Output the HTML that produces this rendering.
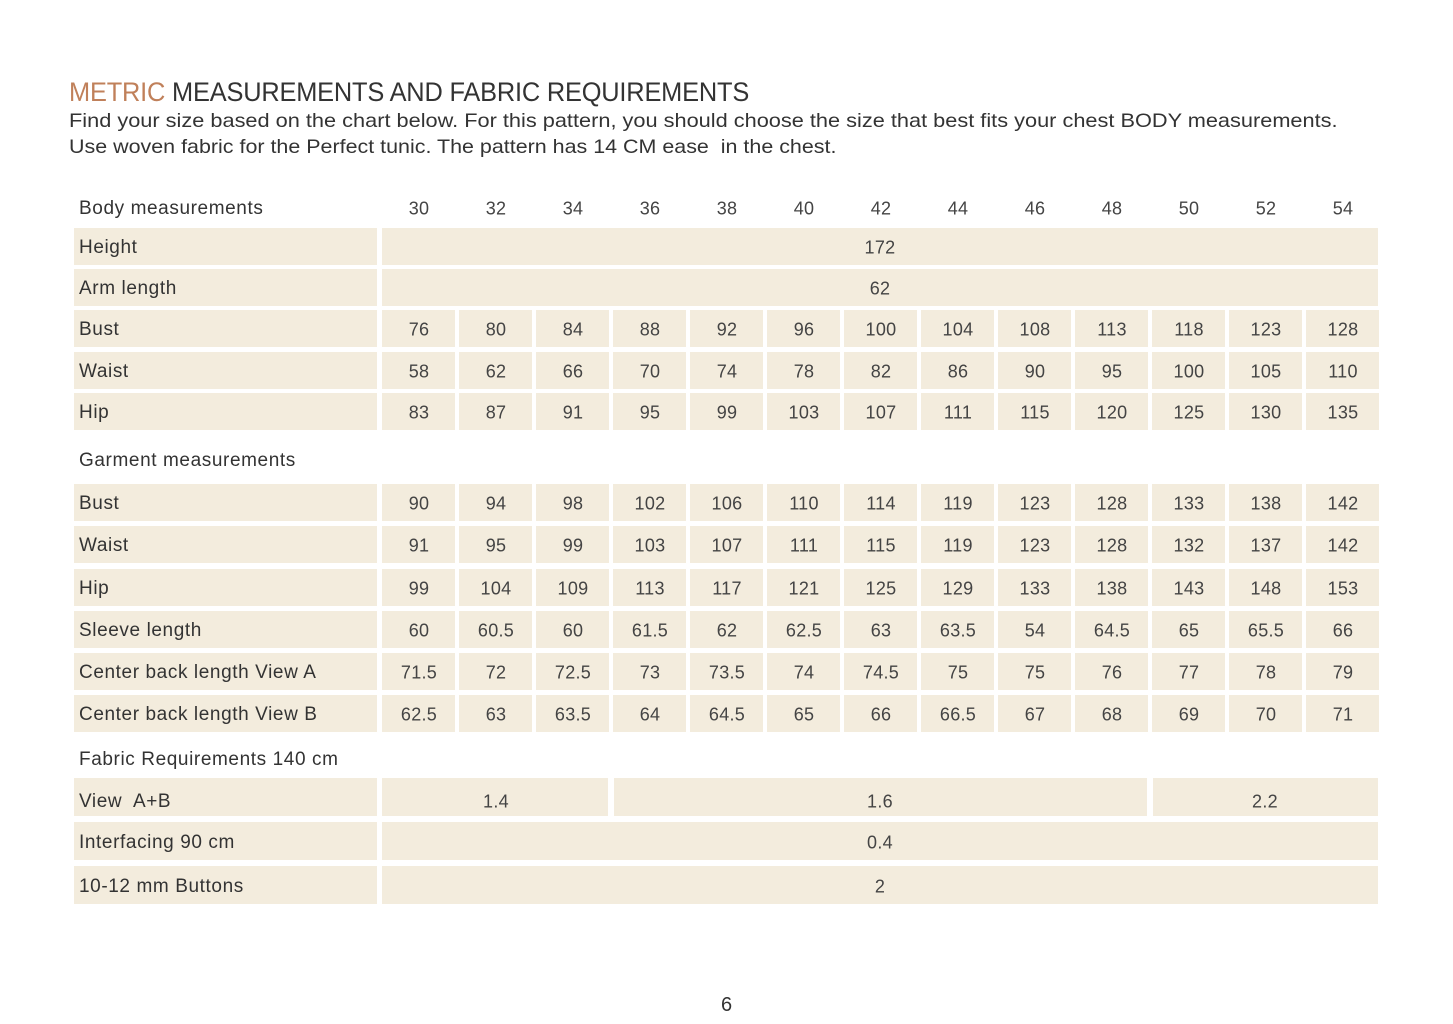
<!DOCTYPE html><html><head><meta charset="utf-8"><style>
body{margin:0;width:1453px;height:1024px;background:#fff;position:relative;font-family:"Liberation Sans",sans-serif;color:#333;overflow:hidden}
.t{position:absolute;white-space:nowrap}
.c{position:absolute;background:#f3ecdd;height:37px}
.v{position:absolute;font-size:18px;color:#444;transform:translate(-50%,-50%);white-space:nowrap;letter-spacing:0.3px}
.l{position:absolute;font-size:19px;letter-spacing:0.6px;color:#333;transform:translateY(-50%);left:79px;white-space:nowrap}
</style></head><body>
<div class="t" style="left:69px;top:77px;font-size:27px;letter-spacing:-0.2px;transform:scaleX(0.94);transform-origin:left"><span style="color:#c0805a">METRIC</span> MEASUREMENTS AND FABRIC REQUIREMENTS</div>
<div class="t" style="left:69px;top:110px;font-size:19.5px;transform:scaleX(1.115);transform-origin:left">Find your size based on the chart below. For this pattern, you should choose the size that best fits your chest BODY measurements.</div>
<div class="t" style="left:69px;top:136px;font-size:19.5px;transform:scaleX(1.1);transform-origin:left">Use woven fabric for the Perfect tunic. The pattern has 14 CM ease&nbsp; in the chest.</div>
<div class="t" style="left:721px;top:994px;font-size:20px">6</div>
<div id="g"></div>
<script>
var g=document.getElementById('g'),h='';
function cx(i){return 419+77*i}
function cell(x1,x2,y,hh){h+='<div class="c" style="left:'+x1+'px;width:'+(x2-x1)+'px;top:'+(y-hh/2)+'px;height:'+hh+'px"></div>'}
function txt(x,y,s){h+='<div class="v" style="left:'+x+'px;top:'+(y+2)+'px">'+s+'</div>'}
function lab(y,s){h+='<div class="l" style="top:'+(y+2)+'px">'+s+'</div>'}
var sizes=[30,32,34,36,38,40,42,44,46,48,50,52,54];
lab(207,'Body measurements');sizes.forEach(function(s,i){txt(cx(i),207,s)});
function row(y,name,vals,hh){hh=hh||37;cell(74,377,y,hh);lab(y,name);vals.forEach(function(v,i){cell(cx(i)-37,cx(i)+36,y,hh);txt(cx(i),y,v)})}
function span(y,name,val,hh){hh=hh||37;cell(74,377,y,hh);lab(y,name);cell(382,1378,y,hh);txt(880,y,val)}
span(246,'Height','172');span(287,'Arm length','62');
row(328,'Bust',[76,80,84,88,92,96,100,104,108,113,118,123,128]);
row(370,'Waist',[58,62,66,70,74,78,82,86,90,95,100,105,110]);
row(411,'Hip',[83,87,91,95,99,103,107,111,115,120,125,130,135]);
lab(459,'Garment measurements');
row(502,'Bust',[90,94,98,102,106,110,114,119,123,128,133,138,142]);
row(544,'Waist',[91,95,99,103,107,111,115,119,123,128,132,137,142]);
row(587,'Hip',[99,104,109,113,117,121,125,129,133,138,143,148,153]);
row(629,'Sleeve length',[60,60.5,60,61.5,62,62.5,63,63.5,54,64.5,65,65.5,66]);
row(671,'Center back length View A',[71.5,72,72.5,73,73.5,74,74.5,75,75,76,77,78,79]);
row(713,'Center back length View B',[62.5,63,63.5,64,64.5,65,66,66.5,67,68,69,70,71]);
lab(758,'Fabric Requirements 140 cm');
cell(74,377,797,38);lab(800,'View&nbsp; A+B');
cell(382,608,797,38);txt(496,800,'1.4');cell(614,1147,797,38);txt(880,800,'1.6');cell(1153,1378,797,38);txt(1265,800,'2.2');
span(841,'Interfacing 90 cm','0.4',38);
span(885,'10-12 mm Buttons','2',38);
g.innerHTML=h;
</script>
</body></html>
